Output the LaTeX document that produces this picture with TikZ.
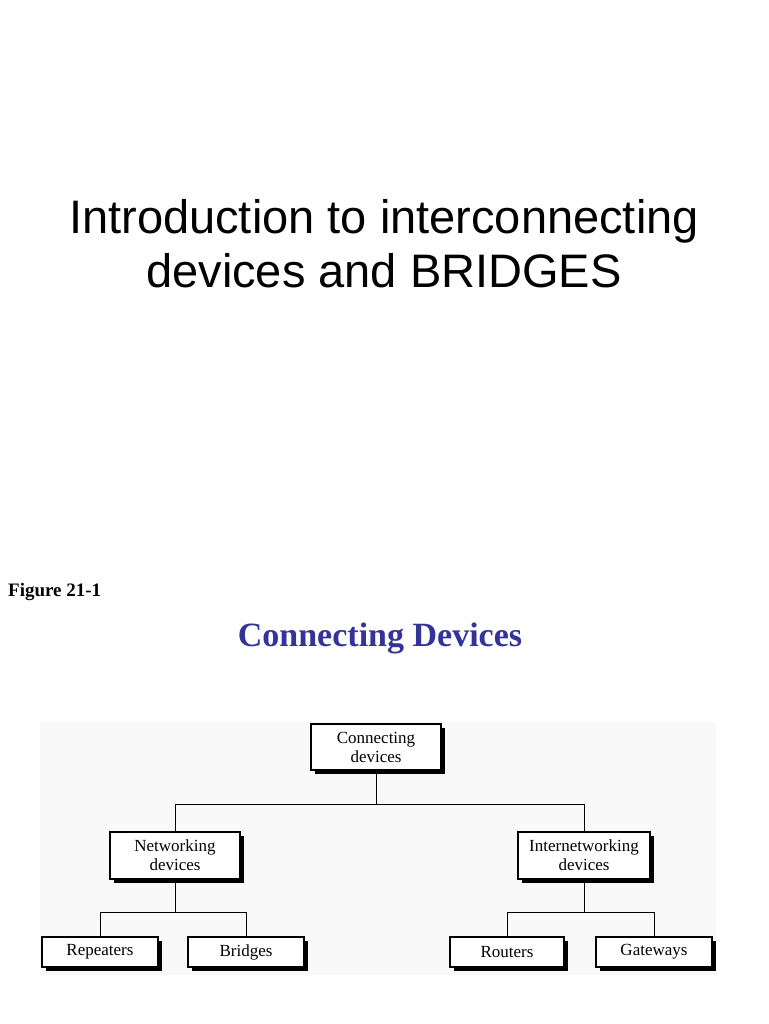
\documentclass[tikz,border=0pt]{standalone}
\usepackage{fontspec}
\setmainfont{Liberation Serif}
\newfontfamily\arialf{Liberation Sans}
\definecolor{ttl}{HTML}{333399}
\definecolor{bgg}{HTML}{F9F9F9}
\begin{document}
\begin{tikzpicture}[x=1pt,y=-1pt,
  bx/.style={draw,line width=1.4pt,fill=white,minimum height=#1,align=center,font=\fontsize{17}{19}\selectfont,inner sep=0pt},
  ln/.style={line width=0.8pt}]
\useasboundingbox (0,0) rectangle (768,1024);
\fill[white] (0,0) rectangle (768,1024);
\fill[bgg] (40,722) rectangle (716,975);
\node[font=\arialf\fontsize{47}{54}\selectfont,align=center] (title) at (384,244) {Introduction to interconnecting\\devices and BRIDGES};
\node[font=\bfseries\fontsize{19}{22}\selectfont,anchor=west,inner sep=0pt] (fig) at (8,592) {Figure 21-1};
\node[font=\bfseries\fontsize{34}{40}\selectfont,text=ttl] (ct) at (380,638) {Connecting Devices};
\newcommand\bxx[6]{% name, x1,y1,x2,y2,text
  \fill (#2+4,#3+4) rectangle (#4+4,#5+4);
  \node[bx=#5-#3,minimum width=#4-#2] (#1) at ({(#2+#4)/2},{(#3+#5)/2}) {#6};}
\bxx{cd}{311}{724}{441}{770}{Connecting\\devices}
\bxx{nd}{110}{832}{240}{879}{Networking\\devices}
\bxx{id}{518}{832}{650}{879}{Internetworking\\devices}
\bxx{rp}{42}{937}{158}{967}{Repeaters}
\bxx{br}{188}{937}{304}{967}{Bridges}
\bxx{ro}{450}{937}{564}{967}{Routers}
\bxx{gw}{596}{937}{712}{967}{Gateways}
\draw[ln] (cd.south) -- ++(0,34) -| (nd.north);
\draw[ln] (cd.south) -- ++(0,34) -| (id.north);
\draw[ln] (nd.south) -- ++(0,33) -| (rp.north);
\draw[ln] (nd.south) -- ++(0,33) -| (br.north);
\draw[ln] (id.south) -- ++(0,33) -| (ro.north);
\draw[ln] (id.south) -- ++(0,33) -| (gw.north);
\end{tikzpicture}
\end{document}
